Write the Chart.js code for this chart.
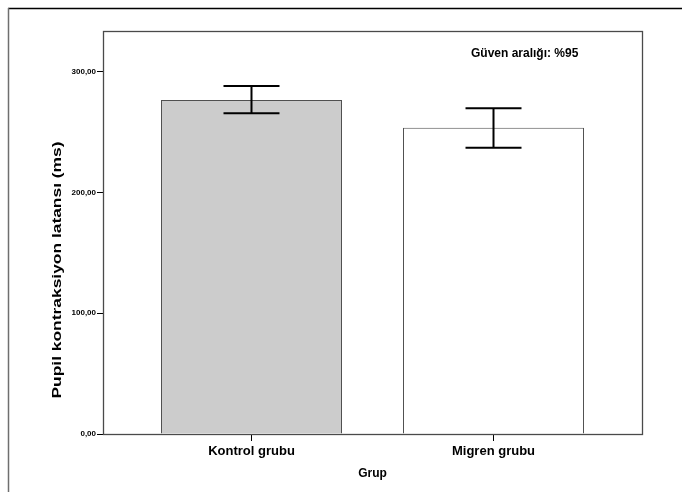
<!DOCTYPE html>
<html>
<head>
<meta charset="utf-8">
<script src="https://cdn.jsdelivr.net/npm/chart.js@4.4.0/dist/chart.umd.min.js"></script>
<style>
  html, body { margin: 0; padding: 0; background: #fff; }
  #wrap { position: relative; width: 682px; height: 492px; }
</style>
</head>
<body>
<div id="wrap"><canvas id="c" width="682" height="492"></canvas></div>
<script>
// ---- data ----
const categories = ['Kontrol grubu', 'Migren grubu'];
const means = [276.5, 253.6];
const ciLower = [265.5, 237.0];
const ciUpper = [288.1, 269.6];
const yTicks = [0, 100, 200, 300];
const barColors = ['#cccccc', '#ffffff'];
const yTitle = 'Pupil kontraksiyon latansı (ms)';
const xTitle = 'Grup';
const noteText = 'Güven aralığı: %95';

const FONT = "'Liberation Sans', Arial, sans-serif";

const framePlugin = {
  id: 'frame',
  beforeDraw(chart) {
    const ctx = chart.ctx;
    ctx.save();
    ctx.fillStyle = '#fff';
    ctx.fillRect(0, 0, chart.width, chart.height);
    ctx.lineWidth = 1.5;
    ctx.strokeStyle = '#000';
    ctx.beginPath(); ctx.moveTo(8, 8.5); ctx.lineTo(chart.width, 8.5); ctx.stroke();
    ctx.strokeStyle = '#6f6f6f';
    ctx.beginPath(); ctx.moveTo(8.5, 8); ctx.lineTo(8.5, chart.height); ctx.stroke();
    ctx.restore();
  },
  afterDraw(chart) {
    const ctx = chart.ctx;
    const a = chart.chartArea;
    ctx.save();
    // plot box
    ctx.strokeStyle = '#4a4a4a';
    ctx.lineWidth = 1.3;
    ctx.strokeRect(Math.round(a.left) + 0.5, Math.round(a.top) + 0.5,
                   Math.round(a.right - a.left), Math.round(a.bottom - a.top));
    // error bars
    const xs = chart.scales.x, ys = chart.scales.y;
    ctx.strokeStyle = '#000';
    ctx.lineWidth = 2;
    for (let i = 0; i < categories.length; i++) {
      const cx = xs.getPixelForValue(i);
      const yl = ys.getPixelForValue(ciLower[i]);
      const yu = ys.getPixelForValue(ciUpper[i]);
      const hw = 28;
      ctx.beginPath();
      ctx.moveTo(cx, yu); ctx.lineTo(cx, yl);
      ctx.moveTo(cx - hw, yu); ctx.lineTo(cx + hw, yu);
      ctx.moveTo(cx - hw, yl); ctx.lineTo(cx + hw, yl);
      ctx.stroke();
    }
    // note text
    ctx.fillStyle = '#000';
    ctx.font = 'bold 12px ' + FONT;
    ctx.textAlign = 'left';
    ctx.textBaseline = 'middle';
    ctx.fillText(noteText, 471, 54);
    // y title (stretched along text direction)
    ctx.font = 'bold 12px ' + FONT;
    const w = ctx.measureText(yTitle).width;
    ctx.translate(58, 270);
    ctx.rotate(-Math.PI / 2);
    ctx.scale(257 / w, 1);
    ctx.textAlign = 'center';
    ctx.textBaseline = 'middle';
    ctx.fillText(yTitle, 0, 0);
    ctx.restore();
  }
};

new Chart(document.getElementById('c'), {
  type: 'bar',
  data: {
    datasets: [{
      data: categories.map((c, i) => ({ x: i, y: means[i] })),
      backgroundColor: barColors,
      borderColor: '#505050',
      borderWidth: 1,
      categoryPercentage: 1,
      barPercentage: 0.748
    }]
  },
  options: {
    responsive: false,
    animation: false,
    devicePixelRatio: 1,
    layout: { padding: { left: 0, top: 31, right: 40, bottom: 0 } },
    plugins: { legend: { display: false }, tooltip: { enabled: false } },
    scales: {
      x: {
        type: 'linear',
        offset: false,
        min: -0.6136,
        max: 1.6136,
        afterBuildTicks: (s) => { s.ticks = categories.map((c, i) => ({ value: i })); },
        afterFit: (s) => { s.height = 58; },
        ticks: {
          callback: (v) => categories[v],
          color: '#000',
          font: { family: FONT, size: 13, weight: 'bold' },
          padding: 3,
          maxRotation: 0,
          autoSkip: false
        },
        grid: { offset: false, drawOnChartArea: false, drawTicks: true, tickLength: 7, color: '#000', lineWidth: 1 },
        border: { display: true, color: '#4a4a4a', width: 1 },
        title: {
          display: true,
          text: xTitle,
          color: '#000',
          font: { family: FONT, size: 12, weight: 'bold' },
          padding: { top: 0, bottom: 11 }
        }
      },
      y: {
        min: 0,
        max: 333.6,
        afterBuildTicks: (s) => { s.ticks = yTicks.map(v => ({ value: v })); },
        afterFit: (s) => { s.width = 103; },
        ticks: {
          callback: (v) => v.toFixed(2).replace('.', ','),
          color: '#000',
          font: { family: FONT, size: 8, weight: 'bold' },
          padding: 1
        },
        grid: { drawOnChartArea: false, drawTicks: true, tickLength: 6, color: '#000', lineWidth: 1 },
        border: { display: true, color: '#4a4a4a', width: 1 }
      }
    }
  },
  plugins: [framePlugin]
});
</script>
</body>
</html>
